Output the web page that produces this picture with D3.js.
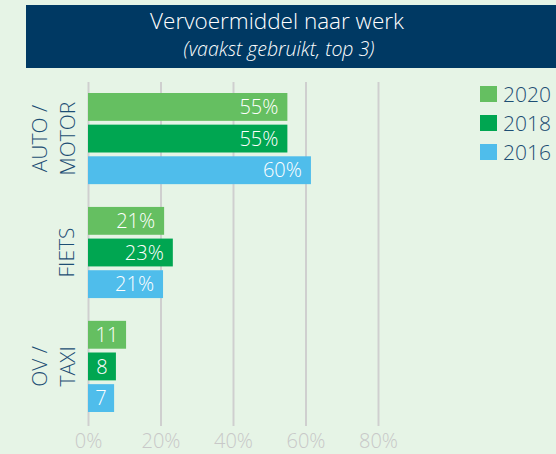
<!DOCTYPE html>
<html>
<head>
<meta charset="utf-8">
<script src="https://cdn.jsdelivr.net/npm/d3@7"></script>
<style>
  body { margin: 0; background: #e6f4e6; }
  svg text { font-family: "Open Sans", "Noto Sans", sans-serif; }
</style>
</head>
<body>
<div id="chart"></div>
<script>
// data
let categories = [["AUTO /", "MOTOR"], ["FIETS"], ["OV /", "TAXI"]];
let years = ["2020", "2018", "2016"];
let values2020 = [55, 21, 10.5];
let values2018 = [55, 23.4, 7.7];
let values2016 = [61.5, 20.7, 7.2];
let labels2020 = ["55%", "21%", "11"];
let labels2018 = ["55%", "23%", "8"];
let labels2016 = ["60%", "21%", "7"];
let xTicks = [0, 20, 40, 60, 80];
let colors = ["#65bf61", "#00a651", "#4fbdeb"];

let W = 556, H = 454;
let svg = d3.select("#chart").append("svg")
    .attr("width", W)
    .attr("height", H);

svg.append("rect").attr("width", W).attr("height", H).attr("fill", "#e6f4e6");

// title bar
svg.append("rect")
    .attr("x", 26).attr("y", 5)
    .attr("width", W - 26).attr("height", 63)
    .attr("fill", "#003963");
svg.append("text")
    .attr("x", 277).attr("y", 29)
    .attr("text-anchor", "middle")
    .attr("fill", "#ffffff")
    .style("font-size", "22.5px")
    .style("font-weight", 300)
    .text("Vervoermiddel naar werk");
svg.append("text")
    .attr("x", 279).attr("y", 56)
    .attr("text-anchor", "middle")
    .attr("fill", "#ffffff")
    .style("font-size", "19.5px")
    .style("font-style", "italic")
    .style("font-weight", 300)
    .text("(vaakst gebruikt, top 3)");

let x = d3.scaleLinear().domain([0, 80]).range([88, 378]);

let y0 = d3.scaleBand()
    .domain(d3.range(categories.length))
    .range([93, 412])
    .paddingInner(0.2);

let y1 = d3.scaleBand()
    .domain(years)
    .range([0, y0.bandwidth()])
    .paddingInner(0.12);

// grid
let xAxis = d3.axisBottom(x)
    .tickValues(xTicks)
    .tickSize(-(426 - 82))
    .tickFormat(d => d + "%");

let gx = svg.append("g")
    .attr("transform", "translate(0,426)")
    .call(xAxis);
gx.select(".domain").remove();
gx.selectAll(".tick line").attr("stroke", "#cfcfcf").attr("stroke-width", 2);
gx.selectAll(".tick text")
    .attr("fill", "#c8c8c8")
    .attr("y", 22)
    .attr("dy", 0)
    .style("font-size", "20px")
    .style("font-weight", 300);

let series = [
    {year: years[0], values: values2020, labels: labels2020, color: colors[0]},
    {year: years[1], values: values2018, labels: labels2018, color: colors[1]},
    {year: years[2], values: values2016, labels: labels2016, color: colors[2]}
];

series.forEach(function (s) {
    let g = svg.append("g");
    s.values.forEach(function (v, i) {
        let yy = y0(i) + y1(s.year);
        g.append("rect")
            .attr("x", x(0))
            .attr("y", yy)
            .attr("width", x(v) - x(0))
            .attr("height", y1.bandwidth())
            .attr("fill", s.color);
        let wide = (x(v) - x(0)) > 50;
        g.append("text")
            .attr("x", wide ? x(v) - 9 : (x(0) + x(v)) / 2)
            .attr("y", yy + y1.bandwidth() / 2)
            .attr("dy", "0.36em")
            .attr("text-anchor", wide ? "end" : "middle")
            .attr("fill", "#ffffff")
            .style("font-size", "20px")
            .style("font-weight", 300)
            .text(s.labels[i]);
    });
});

// category labels
categories.forEach(function (lines, i) {
    let cy = y0(i) + y0.bandwidth() / 2;
    let t = svg.append("text")
        .attr("transform", "translate(" + (lines.length > 1 ? 47 : 74) + "," + cy + ") rotate(-90)")
        .attr("text-anchor", "middle")
        .attr("fill", "#1d4e74")
        .style("font-size", "21px")
        .style("font-weight", 300);
    lines.forEach(function (l, j) {
        t.append("tspan").attr("x", 0).attr("dy", j === 0 ? 0 : "1.33em").text(l);
    });
});

// legend
let legend = svg.append("g").attr("transform", "translate(480,86)");
years.forEach(function (yr, i) {
    let row = legend.append("g").attr("transform", "translate(0," + (i * 29) + ")");
    row.append("rect").attr("width", 17).attr("height", 16).attr("fill", colors[i]);
    row.append("text")
        .attr("x", 23).attr("y", 16)
        .attr("fill", "#1d4e74")
        .style("font-size", "21px")
        .style("font-weight", 300)
        .text(yr);
});
</script>
</body>
</html>
